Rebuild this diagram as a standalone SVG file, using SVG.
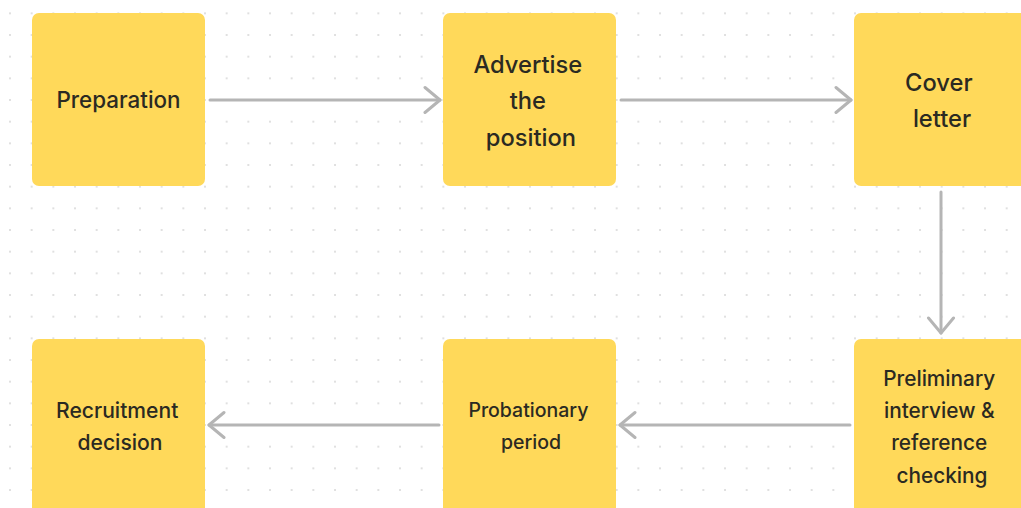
<svg xmlns="http://www.w3.org/2000/svg" width="1021" height="508" viewBox="0 0 1021 508">
  <defs>
    <pattern id="dots" x="10" y="13.33" width="21.667" height="21.667" patternUnits="userSpaceOnUse">
      <circle cx="0" cy="0" r="1" fill="#d6d6d6"/>
      <circle cx="21.667" cy="0" r="1" fill="#d6d6d6"/>
      <circle cx="0" cy="21.667" r="1" fill="#d6d6d6"/>
      <circle cx="21.667" cy="21.667" r="1" fill="#d6d6d6"/>
    </pattern>
    <marker id="chev" viewBox="0 0 20 30" refX="17" refY="15" markerWidth="20" markerHeight="30" markerUnits="userSpaceOnUse" orient="auto">
      <path d="M2,2.5 L17,15 L2,27.5" fill="none" stroke="#b5b5b5" stroke-width="3" stroke-linecap="round" stroke-linejoin="round"/>
    </marker>
    <style>
      .card { fill: #FFD95A; }
      .lbl { font-family: Inter, "Noto Sans", "Liberation Sans", sans-serif; font-weight: 500; fill: #2b2a22; text-anchor: middle; }
      .edge { fill: none; stroke: #b5b5b5; stroke-width: 3; stroke-linecap: round; marker-end: url(#chev); }
    </style>
  </defs>

  <rect width="1021" height="508" fill="#ffffff"/>
  <rect width="1021" height="508" fill="url(#dots)"/>

  <!-- connectors -->
  <g id="connectors">
    <path class="edge" d="M210,100 L440,100"/>
    <path class="edge" d="M621,100 L851,100"/>
    <path class="edge" d="M941,192 L941,333"/>
    <path class="edge" d="M850,425 L620,425"/>
    <path class="edge" d="M439,425 L209,425"/>
  </g>

  <g id="node-preparation">
    <rect class="card" x="32" y="13" width="173" height="173" rx="7"/>
    <text class="lbl" x="118.5" y="108" font-size="22.4">Preparation</text>
  </g>

  <g id="node-advertise">
    <rect class="card" x="443" y="13" width="173" height="173" rx="7"/>
    <text class="lbl" font-size="23.7">
      <tspan x="531" y="72.5">Advertise</tspan>
      <tspan x="531" y="109">the</tspan>
      <tspan x="531" y="145.5">position</tspan>
    </text>
  </g>

  <g id="node-cover-letter">
    <rect class="card" x="854" y="13" width="173" height="173" rx="7"/>
    <text class="lbl" font-size="23.7">
      <tspan x="942" y="90.5">Cover</tspan>
      <tspan x="942" y="127">letter</tspan>
    </text>
  </g>

  <g id="node-preliminary">
    <rect class="card" x="854" y="339" width="173" height="180" rx="7"/>
    <text class="lbl" font-size="20.8">
      <tspan x="942" y="385.5">Preliminary</tspan>
      <tspan x="942" y="418">interview &amp;</tspan>
      <tspan x="942" y="450">reference</tspan>
      <tspan x="942" y="482.5">checking</tspan>
    </text>
  </g>

  <g id="node-probationary">
    <rect class="card" x="443" y="339" width="173" height="180" rx="7"/>
    <text class="lbl" font-size="19.5">
      <tspan x="531" y="417">Probationary</tspan>
      <tspan x="531" y="448.5">period</tspan>
    </text>
  </g>

  <g id="node-recruitment">
    <rect class="card" x="32" y="339" width="173" height="180" rx="7"/>
    <text class="lbl" font-size="21.1">
      <tspan x="120" y="417.5">Recruitment</tspan>
      <tspan x="120" y="449.5">decision</tspan>
    </text>
  </g>
</svg>
